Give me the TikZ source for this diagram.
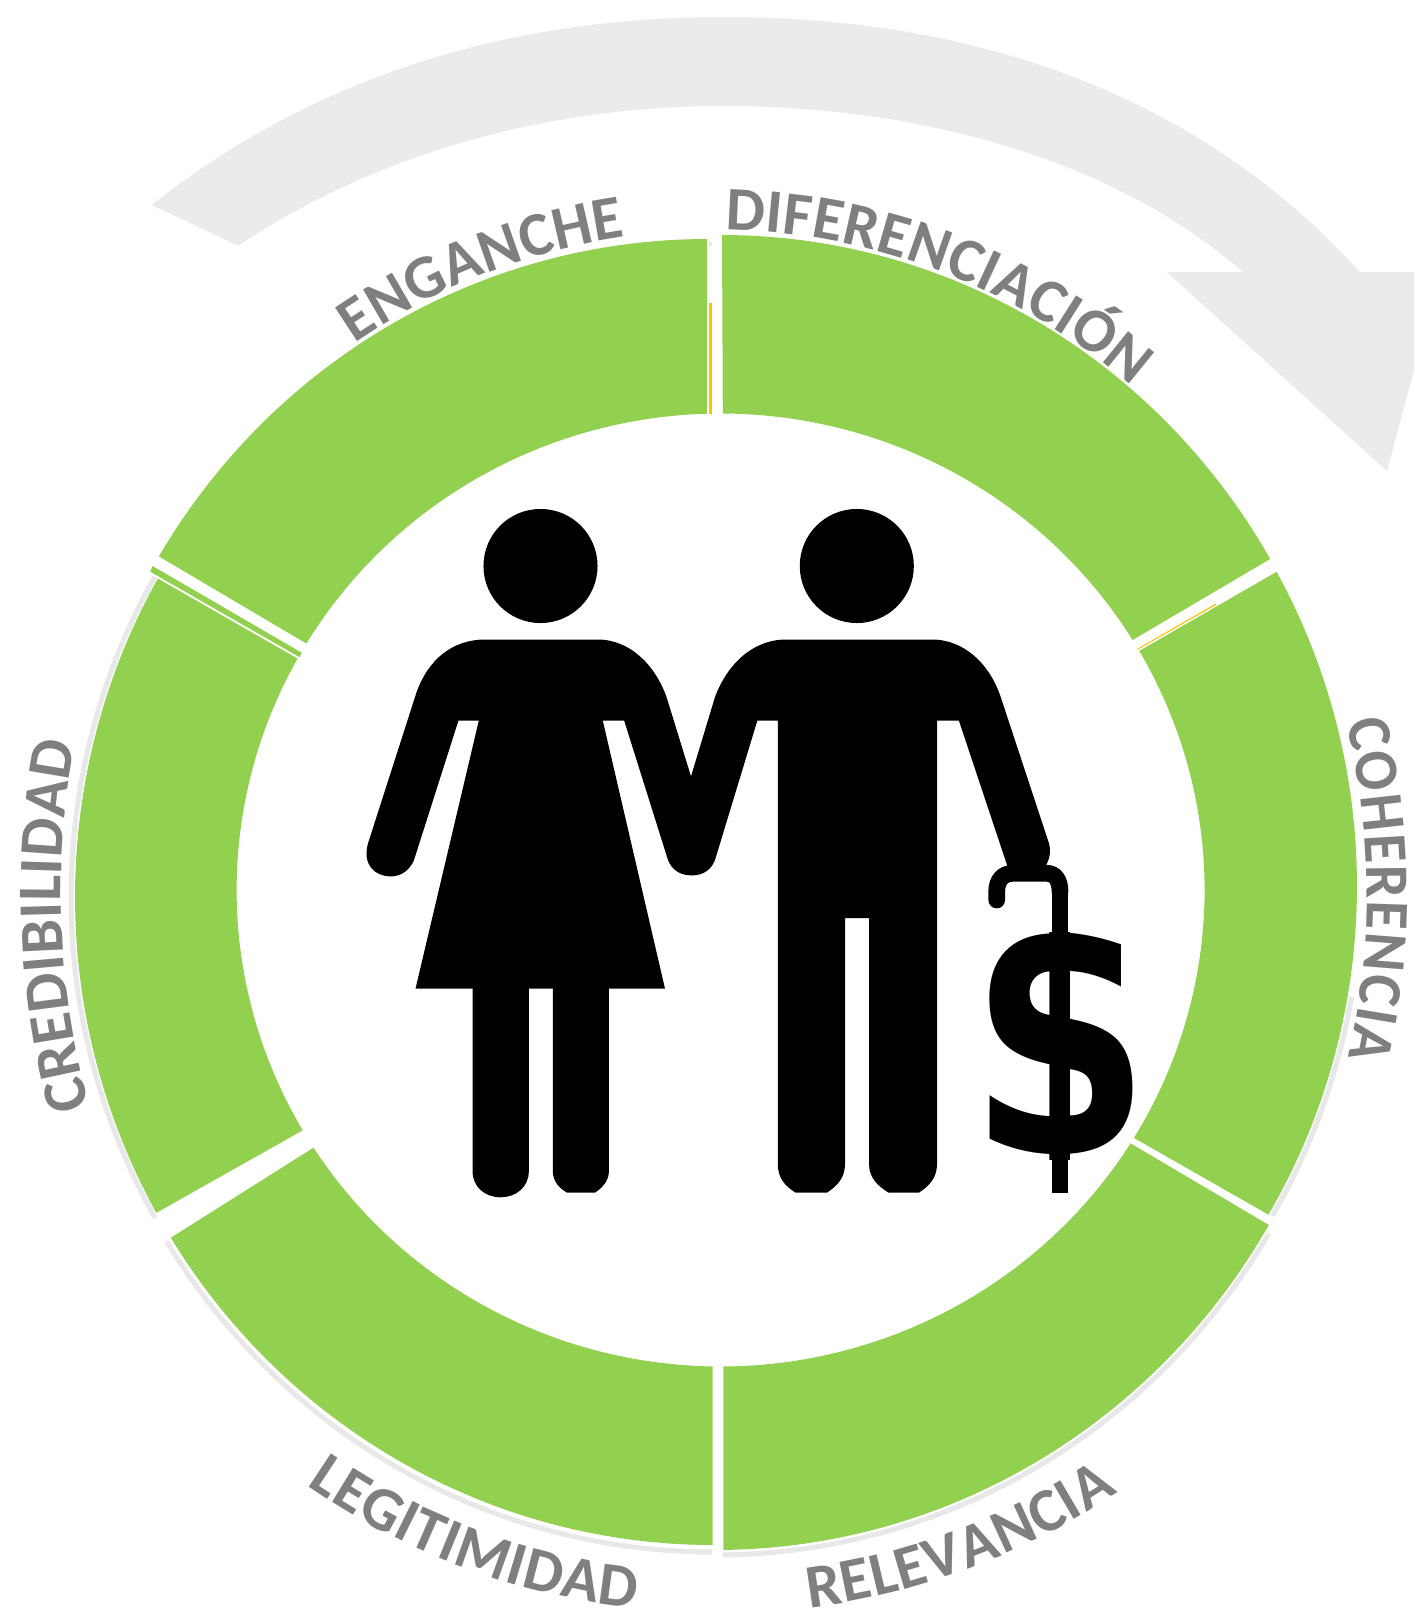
\documentclass[tikz,border=0pt]{standalone}
\usepackage{fontspec}
\setsansfont{Carlito}
\newfontfamily\tightfont[FakeStretch=0.95]{Carlito}
\newfontfamily\dollarfont{DejaVu Sans}
\usetikzlibrary{decorations.text}

\definecolor{ringgreen}{HTML}{92D050}
\definecolor{arrowgray}{HTML}{ECEAEB}
\definecolor{edgegray}{HTML}{E8E8E8}
\definecolor{labelgray}{HTML}{7F7F7F}
\definecolor{sliverorange}{HTML}{FFC000}

\tikzset{
    edgearc/.style={edgegray, line width=0.05cm},
    iconfill/.style={fill=black},
    caneline/.style={black, line width=0.167cm}
}

% centre x, y, radii x, y, outer angles, inner angles
\newcommand{\ringseg}[6]{
    \fill[ringgreen] plot[domain=#5, samples=60] ({#1+#3*cos(\x)}, {#2+#4*sin(\x)})
        -- plot[domain=#6, samples=60] ({720.6+484*cos(\x)}, {890+476.5*sin(\x)}) -- cycle;
}
\newcommand{\edgeseg}[5]{
    \draw[edgearc] plot[domain=#5, samples=50] ({#1+#3*cos(\x)}, {#2+#4*sin(\x)});
}
\newcommand{\arclabel}[7]{
    \path[decorate, decoration={text along path, text align={fit to path},
        text={|#6\bfseries\fontsize{17.6}{20}\selectfont\color{labelgray}|#7}}]
        plot[domain=#5, samples=50] ({#1+#3*cos(\x)}, {#2+#4*sin(\x)});
}

\begin{document}
\begin{tikzpicture}[x=0.01cm, y=-0.01cm]
    \useasboundingbox (0,0) rectangle (1414,1615);

    % big arrow on top
    \fill[arrowgray] (151.7,205) .. controls (331.7,63) and (534,17) .. (724,17)
        .. controls (960,17) and (1190,85) .. (1360,272)
        -- (1414,272) -- (1414,370) -- (1387,471) -- (1166.7,272) -- (1243,272)
        .. controls (1103,150) and (900,106) .. (724,106)
        .. controls (574,106) and (398,140) .. (238,245.7) -- cycle;

    % grey edge under the ring
    \edgeseg{716}{897}{645}{650}{150.4:209.5}
    \edgeseg{712}{892}{643}{660}{90:148}
    \edgeseg{716}{892}{645}{663}{31:89.4}
    \edgeseg{716}{886}{645}{652}{9.8:30.4}

    % ring
    \ringseg{707}{892}{639}{653}{210.93:270}{268.4:211.15}
    \ringseg{722}{892}{636}{657}{270:329.54}{328.35:270.26}
    \ringseg{716}{886}{641}{648}{-29:30.48}{31.35:-30.12}
    \ringseg{716}{892}{641}{658}{30.4:89.35}{89.68:32.12}
    \ringseg{712.6}{892}{638.7}{653}{90:148.03}{147.26:90.95}
    \ringseg{716}{897}{641}{648}{150.83:209.44}{209.07:149.71}
    \fill[ringgreen] (152.6,566) -- (150.2,571.7) -- (299.7,657.3) -- (301.7,652.7) -- cycle;

    % small leftovers in the gaps
    \fill[sliverorange] (708.6,303) rectangle (712,413.7);
    \fill[edgegray] (709,242) rectangle (712,246);
    \fill[sliverorange] (1138,649.5) -- (1216.7,604.5) -- (1215,604) -- (1137,649) -- cycle;

    % labels
    \arclabel{716}{890}{644}{660}{235.9:261.9}{\sffamily}{ENGANCHE}
    \arclabel{716}{890}{643}{660}{270.8:310.3}{\sffamily}{DIFERENCIACIÓN}
    \arclabel{647}{893}{720}{720}{-13.7:13.2}{\tightfont}{COHERENCIA}
    \arclabel{716}{890}{724}{724}{82.6:56.3}{\sffamily}{RELEVANCIA}
    \arclabel{716}{890}{723}{723}{124.5:96.4}{\sffamily}{LEGITIMIDAD}
    \arclabel{861}{893}{800}{800}{164.5:190.83}{\sffamily}{CREDIBILIDAD}

    % couple
    \fill[iconfill] (540.5,566) circle[radius=0.57cm];
    \fill[iconfill] (856.8,566) circle[radius=0.57cm];
    \fill[iconfill] (485.4,639.5) -- (597.6,639.5)
        .. controls (630,639.5) and (655,665) .. (666.5,697)
        -- (691,776.4) -- (715,697)
        .. controls (727,665) and (752,639.5) .. (786.4,639.5)
        -- (931.8,639.5)
        .. controls (965,639.5) and (990,665) .. (1000.7,697)
        -- (1049,843.4)
        .. controls (1051,852) and (1050,858) .. (1045.6,866)
        -- (1008,868) -- (958.9,720.7) -- (937,720.7) -- (937,1164)
        .. controls (937,1178) and (929,1186) .. (919,1192.6) -- (888.5,1192.6)
        .. controls (878,1186) and (869,1178) .. (869,1164) -- (869,918) -- (845,918) -- (845,1164)
        .. controls (845,1178) and (837,1186) .. (827,1192.6) -- (795.6,1192.6)
        .. controls (785,1186) and (777.8,1178) .. (777.8,1164) -- (777.8,720.7) -- (757.3,720.7) -- (715,860)
        .. controls (711,870) and (703,875.4) .. (692,875.4)
        .. controls (680,875.4) and (672,870) .. (668,860)
        -- (624.2,720.7) -- (602.8,720.7) -- (665,988.7) -- (608.9,988.7) -- (608.9,1171.3)
        .. controls (608.9,1181) and (602,1188) .. (595,1192.6) -- (567,1192.6)
        .. controls (559,1188) and (552.8,1181) .. (552.8,1171.3) -- (552.8,988.7) -- (528.8,988.7) -- (528.8,1171.3)
        .. controls (528.8,1187) and (516,1197.3) .. (500.7,1197.3)
        .. controls (485,1197.3) and (472.6,1187) .. (472.6,1171.3) -- (472.6,988.7) -- (415.5,988.7)
        -- (478.8,720.7) -- (458.4,720.7) -- (414,860)
        .. controls (410,870) and (401,876.4) .. (391,876.4)
        .. controls (375,876.4) and (362,865) .. (368,843.4)
        -- (416.5,692.4)
        .. controls (428,660) and (452,639.5) .. (485.4,639.5) -- cycle;

    % dollar on the cane
    \begin{scope}
        \clip (980,932) rectangle (1145,1159);
        \node[inner sep=0pt, transform shape, yscale=1.31, font=\dollarfont\bfseries\fontsize{74}{74}\selectfont] (dollar) at (1060,1050) {\$};
    \end{scope}
    \draw[caneline, line cap=round] (996.7,900) -- (996.7,891.7)
        .. controls (996.7,880) and (1003,873.3) .. (1013,873.3) -- (1046.7,873.3)
        .. controls (1055,873.3) and (1060,880) .. (1060,891.7);
    \draw[caneline] (1060,890) -- (1060,1193);
\end{tikzpicture}
\end{document}
